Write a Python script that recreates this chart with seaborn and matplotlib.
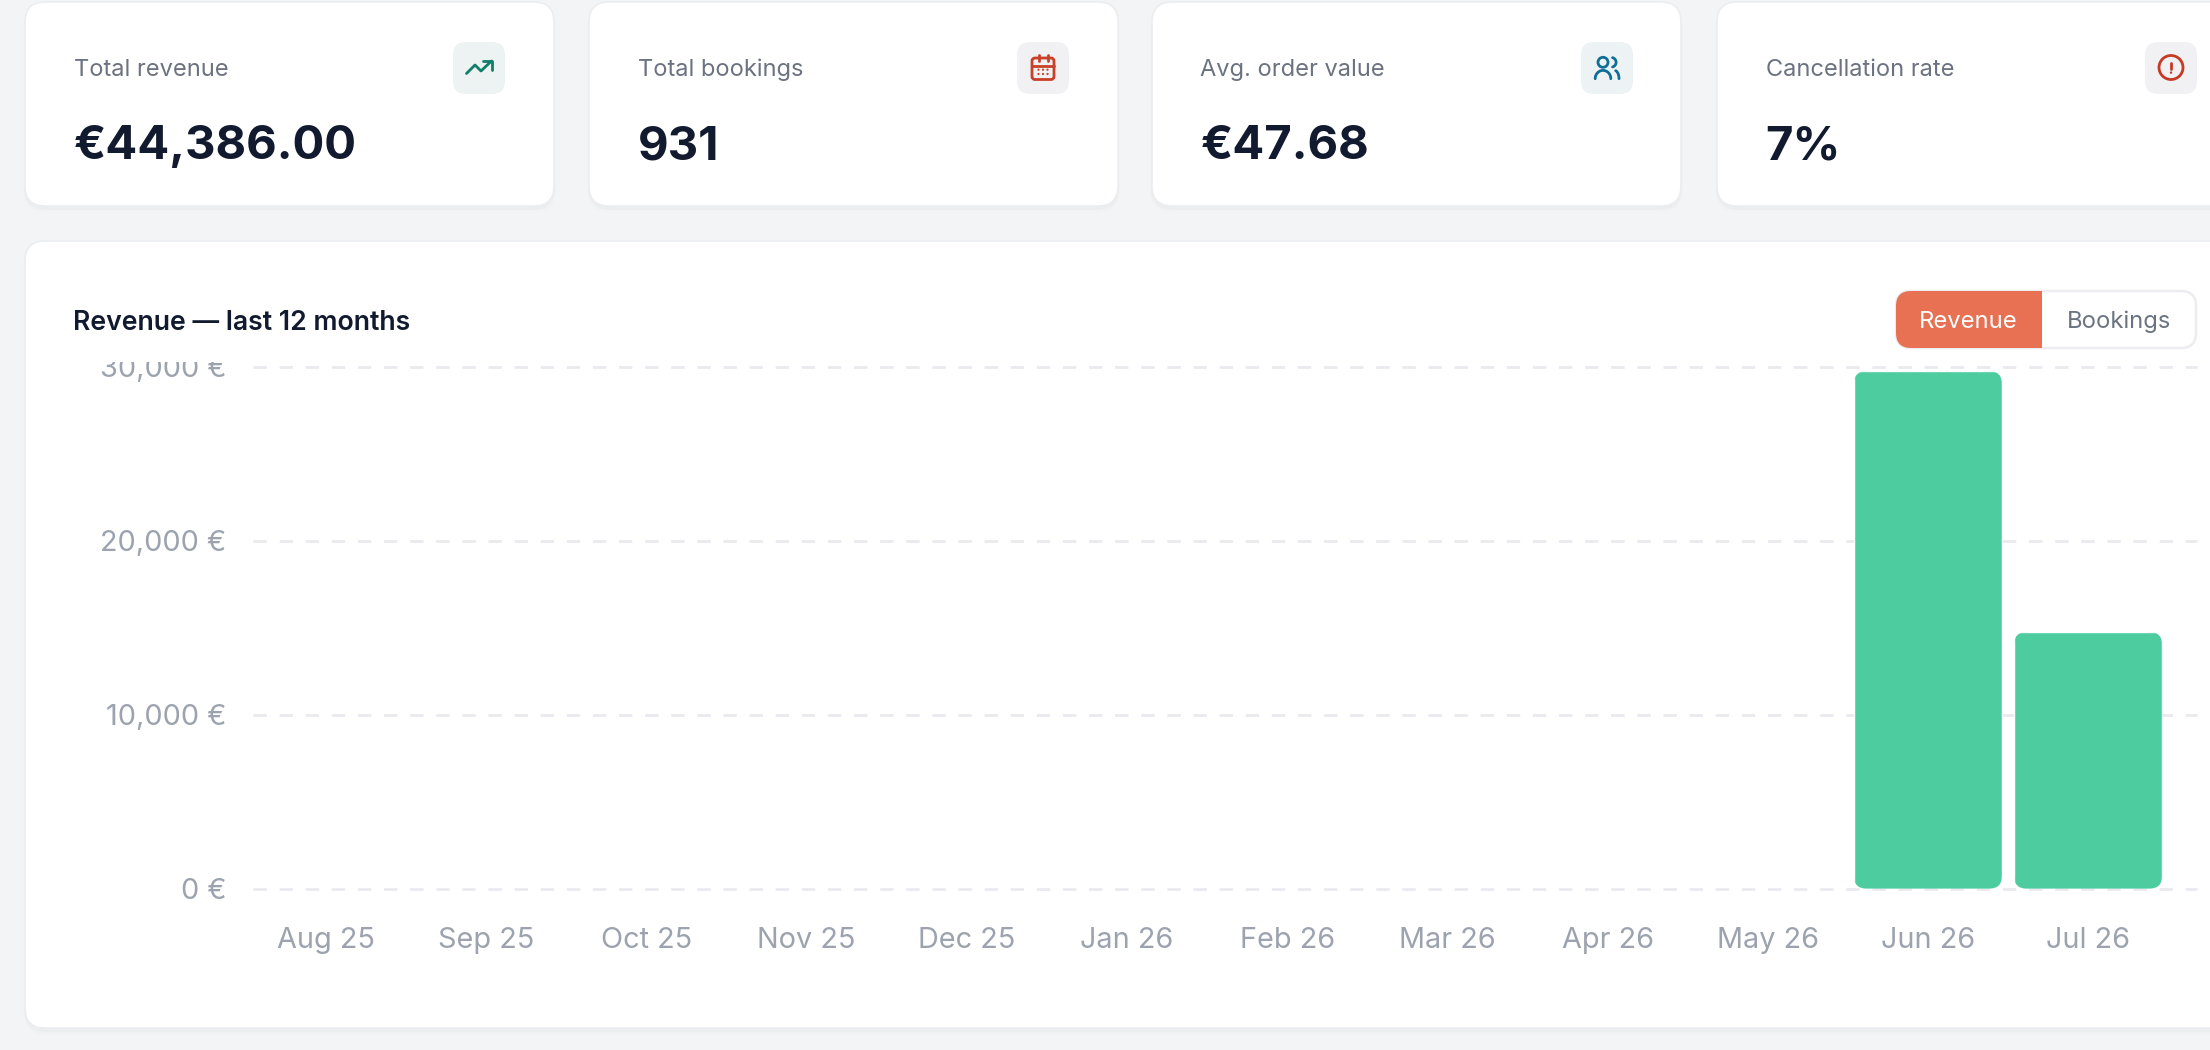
import numpy as np
import seaborn as sns
import matplotlib
matplotlib.use("Agg")
import matplotlib.pyplot as plt
from matplotlib.patches import FancyBboxPatch, Rectangle, Circle
from matplotlib.transforms import Bbox, IdentityTransform

months = ["Aug 25", "Sep 25", "Oct 25", "Nov 25", "Dec 25", "Jan 26",
          "Feb 26", "Mar 26", "Apr 26", "May 26", "Jun 26", "Jul 26"]
revenue = [0, 0, 0, 0, 0, 0, 0, 0, 0, 0, 29740, 14750]
y_ticks = [0, 10000, 20000, 30000]
y_labels = ["0 €", "10,000 €", "20,000 €", "30,000 €"]
card_titles = ["Total revenue", "Total bookings", "Avg. order value", "Cancellation rate"]
card_values = ["€44,386.00", "931", "€47.68", "7%"]

BG = "#F3F4F6"
BORDER = "#ECEDF1"
INK = "#111A2E"
GREY = "#6B7280"
TICK = "#9CA3AF"
GREEN = "#4DCCA0"
ORANGE = "#E87153"

sns.set_theme(style="white")
plt.rcParams["font.family"] = ["Inter", "DejaVu Sans"]
plt.rcParams["lines.scale_dashes"] = False

fig = plt.figure(figsize=(22.1, 10.5), dpi=100, facecolor=BG)

# page layer in pixel coordinates
page = fig.add_axes([0, 0, 1, 1], zorder=0)
page.set_xlim(0, 2210)
page.set_ylim(1050, 0)
page.axis("off")


def round_box(x0, y0, x1, y1, r, **kw):
    box = FancyBboxPatch((x0, y0), x1 - x0, y1 - y0,
                         boxstyle=f"round,pad=0,rounding_size={r}", **kw)
    page.add_patch(box)
    return box


def card(x0, y0, x1, y1):
    # soft shadow then the card
    round_box(x0 - 2, y0 + 6, x1 + 2, y1 + 7, 24, fc="#000000", ec="none", alpha=0.008)
    round_box(x0 - 1, y0 + 3, x1 + 1, y1 + 4, 22, fc="#000000", ec="none", alpha=0.02)
    round_box(x0, y0, x1, y1, 20, fc="white", ec=BORDER, lw=1.2)


def poly(pts, cx, cy, color, lw=2.0):
    pts = np.array(pts, dtype=float)
    page.plot(pts[:, 0] + cx, pts[:, 1] + cy, color=color, lw=lw,
              solid_capstyle="round", solid_joinstyle="round")


def arc(cx, cy, rx, ry, a0, a1):
    t = np.radians(np.linspace(a0, a1, 30))
    return np.column_stack([cx + rx * np.cos(t), cy + ry * np.sin(t)])


def icon_trend(cx, cy):
    c = "#0F7F68"
    poly([(-12.5, 5.5), (-4, -3), (2, 3), (12.5, -7)], cx, cy, c)
    poly([(4, -7), (12.5, -7), (12.5, 1.5)], cx, cy, c)


def icon_calendar(cx, cy):
    c = "#C9402A"
    page.add_patch(FancyBboxPatch((cx - 11, cy - 10), 22, 21.5, ec=c, fc="none", lw=2.0,
                                  boxstyle="round,pad=0,rounding_size=3"))
    poly([(-11, -2.3), (11, -2.3)], cx, cy, c)
    poly([(-4.5, -13.3), (-4.5, -6.7)], cx, cy, c)
    poly([(4.5, -13.3), (4.5, -6.7)], cx, cy, c)
    for dx in (-4.5, 0, 4.5):
        for dy in (1.7, 6):
            page.add_patch(Circle((cx + dx, cy + dy), 1.1, fc=c, ec="none"))


def icon_users(cx, cy):
    c = "#0E6E96"
    page.add_patch(Circle((cx - 4, cy - 5.7), 5, fc="none", ec=c, lw=2.0))
    poly(arc(-4, 10.7, 7.8, 8.3, 180, 360), cx, cy, c)
    poly(arc(4.3, -5.7, 4.8, 4.8, -75, 75), cx, cy, c)
    poly(arc(7.5, 10.7, 4.5, 8.3, 285, 360), cx, cy, c)


def icon_alert(cx, cy):
    c = "#C63A25"
    page.add_patch(Circle((cx, cy - 0.5), 12, fc="none", ec=c, lw=2.0))
    poly([(0, -5.5), (0, 1)], cx, cy, c)
    page.add_patch(Circle((cx, cy + 4.6), 1.2, fc=c, ec="none"))


card_left = [25, 589, 1152, 1717]
icon_left = [453, 1017, 1581, 2145]
icon_bg = ["#EDF2F3", "#F1F1F3", "#EDF2F5", "#F1F1F3"]
icons = [icon_trend, icon_calendar, icon_users, icon_alert]

for i in range(4):
    x = card_left[i]
    card(x, 2, x + 529, 206)
    page.text(x + 48.5, 76, card_titles[i], color=GREY, fontsize=17.0, va="baseline")
    page.text(x + 48.5, 159, card_values[i], color=INK, fontsize=34, fontweight="bold", va="baseline")
    round_box(icon_left[i], 42, icon_left[i] + 52, 94, 13, fc=icon_bg[i], ec="none")
    icons[i](icon_left[i] + 26, 68)

# chart panel, runs off the right edge
card(25, 241, 2260, 1028)
page.text(73, 330, "Revenue — last 12 months", color=INK, fontsize=19.2, fontweight="semibold", va="baseline")

# Revenue / Bookings toggle
toggle = round_box(1896, 291, 2196, 348, 15, fc="white", ec=BORDER, lw=1.8)
active = Rectangle((1896, 291), 146, 57, fc=ORANGE, ec="none")
page.add_patch(active)
active.set_clip_path(toggle)
page.text(1968, 328, "Revenue", color="white", fontsize=17.1, ha="center", va="baseline")
page.text(2119, 328, "Bookings", color=GREY, fontsize=17.1, ha="center", va="baseline")

# bars
ax = fig.add_axes([253 / 2210, (1050 - 888.7) / 1050, (2197 - 253) / 2210, (888.7 - 366.6) / 1050], zorder=1)
ax.patch.set_visible(False)
sns.barplot(x=months, y=revenue, color=GREEN, saturation=1, width=0.925, ax=ax, zorder=3)
ax.set_xlim(-0.456, 11.68)
ax.set_ylim(0, 30000)
ax.set_yticks(y_ticks)
ax.set_yticklabels(y_labels)
ax.set_axisbelow(True)
ax.yaxis.grid(True, color="#E9E9EF", lw=2.0, linestyle=(0, (9.6, 9.2)), clip_on=False)
ax.xaxis.grid(False)
ax.tick_params(axis="y", length=0, pad=19.3, labelsize=20.8, labelcolor=TICK)
ax.tick_params(axis="x", length=0, pad=27.7, labelsize=20.8, labelcolor=TICK)
ax.set_xlabel("")
ax.set_ylabel("")
sns.despine(ax=ax, left=True, bottom=True)

# rounded bar corners
for bar in ax.patches:
    if bar.get_height() <= 0:
        continue
    (x0, y0), (x1, y1) = ax.transData.transform(
        [(bar.get_x(), 0), (bar.get_x() + bar.get_width(), bar.get_height())])
    mask = FancyBboxPatch((x0, y0), x1 - x0, y1 - y0, transform=IdentityTransform(),
                          boxstyle="round,pad=0,rounding_size=13")
    bar.set_clip_path(mask)

# top tick label is cut by the chart's own box
for lab in ax.get_yticklabels():
    lab.set_clip_on(True)
    lab.set_clip_box(Bbox([[0, 0], [2210, 1050 - 362]]))

fig.savefig("out.png", dpi=100, facecolor=BG)
